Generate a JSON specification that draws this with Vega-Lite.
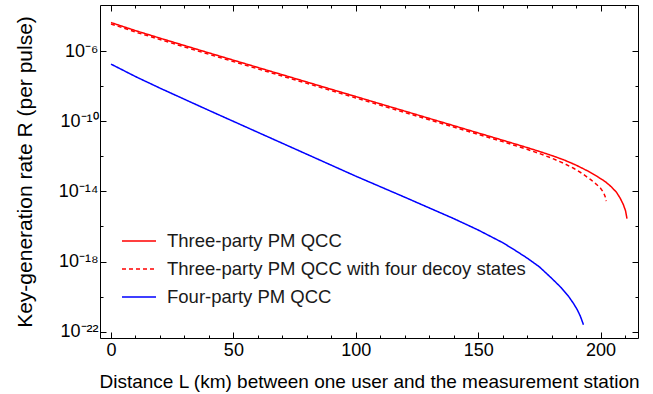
{
  "$schema": "https://vega.github.io/schema/vega-lite/v6.json",
  "autosize": "none",
  "width": 538,
  "height": 333,
  "padding": {"left": 100, "top": 5, "right": 15, "bottom": 56},
  "config": {
    "font": "Liberation Sans",
    "view": {"stroke": "#000000", "strokeWidth": 1},
    "axis": {
      "grid": false, "domain": false, "tickColor": "#000000", "labelColor": "#000000",
      "titleColor": "#000000", "labelFontSize": 18, "titleFontSize": 19,
      "titleFontWeight": "normal", "tickWidth": 1
    },
    "legend": {
      "labelFontSize": 18.5, "labelColor": "#1a1a1a", "symbolType": "stroke", "labelLimit": 0,
      "symbolSize": 1156, "symbolStrokeWidth": 1.5, "labelOffset": 10, "rowPadding": -2, "padding": 0
    }
  },
  "data": {
    "values": [
      {"series": "Three-party PM QCC", "km": 0, "R": 4.27e-5},
      {"series": "Three-party PM QCC", "km": 10, "R": 1.48e-5},
      {"series": "Three-party PM QCC", "km": 20, "R": 5.50e-6},
      {"series": "Three-party PM QCC", "km": 40, "R": 7.94e-7},
      {"series": "Three-party PM QCC", "km": 60, "R": 1.17e-7},
      {"series": "Three-party PM QCC", "km": 80, "R": 1.74e-8},
      {"series": "Three-party PM QCC", "km": 100, "R": 2.57e-9},
      {"series": "Three-party PM QCC", "km": 120, "R": 3.80e-10},
      {"series": "Three-party PM QCC", "km": 140, "R": 5.62e-11},
      {"series": "Three-party PM QCC", "km": 160, "R": 8.32e-12},
      {"series": "Three-party PM QCC", "km": 170, "R": 3.16e-12},
      {"series": "Three-party PM QCC", "km": 175, "R": 1.91e-12},
      {"series": "Three-party PM QCC", "km": 180, "R": 1.12e-12},
      {"series": "Three-party PM QCC", "km": 185, "R": 6.31e-13},
      {"series": "Three-party PM QCC", "km": 190, "R": 3.16e-13},
      {"series": "Three-party PM QCC", "km": 195, "R": 1.41e-13},
      {"series": "Three-party PM QCC", "km": 199, "R": 6.61e-14},
      {"series": "Three-party PM QCC", "km": 202, "R": 3.55e-14},
      {"series": "Three-party PM QCC", "km": 204.5, "R": 1.78e-14},
      {"series": "Three-party PM QCC", "km": 206.5, "R": 8.91e-15},
      {"series": "Three-party PM QCC", "km": 208, "R": 4.17e-15},
      {"series": "Three-party PM QCC", "km": 209.3, "R": 1.78e-15},
      {"series": "Three-party PM QCC", "km": 210.2, "R": 7.94e-16},
      {"series": "Three-party PM QCC", "km": 210.8, "R": 2.82e-16},
      {"series": "Three-party PM QCC with four decoy states", "km": 0, "R": 3.55e-5},
      {"series": "Three-party PM QCC with four decoy states", "km": 10, "R": 1.23e-5},
      {"series": "Three-party PM QCC with four decoy states", "km": 20, "R": 4.57e-6},
      {"series": "Three-party PM QCC with four decoy states", "km": 40, "R": 6.61e-7},
      {"series": "Three-party PM QCC with four decoy states", "km": 60, "R": 9.77e-8},
      {"series": "Three-party PM QCC with four decoy states", "km": 80, "R": 1.45e-8},
      {"series": "Three-party PM QCC with four decoy states", "km": 100, "R": 2.14e-9},
      {"series": "Three-party PM QCC with four decoy states", "km": 120, "R": 3.16e-10},
      {"series": "Three-party PM QCC with four decoy states", "km": 140, "R": 4.68e-11},
      {"series": "Three-party PM QCC with four decoy states", "km": 160, "R": 6.92e-12},
      {"series": "Three-party PM QCC with four decoy states", "km": 170, "R": 2.51e-12},
      {"series": "Three-party PM QCC with four decoy states", "km": 175, "R": 1.45e-12},
      {"series": "Three-party PM QCC with four decoy states", "km": 180, "R": 7.94e-13},
      {"series": "Three-party PM QCC with four decoy states", "km": 185, "R": 3.98e-13},
      {"series": "Three-party PM QCC with four decoy states", "km": 189, "R": 2.09e-13},
      {"series": "Three-party PM QCC with four decoy states", "km": 192.5, "R": 1.05e-13},
      {"series": "Three-party PM QCC with four decoy states", "km": 196, "R": 4.68e-14},
      {"series": "Three-party PM QCC with four decoy states", "km": 198.5, "R": 2.40e-14},
      {"series": "Three-party PM QCC with four decoy states", "km": 200, "R": 1.51e-14},
      {"series": "Three-party PM QCC with four decoy states", "km": 201.2, "R": 8.91e-15},
      {"series": "Three-party PM QCC with four decoy states", "km": 201.9, "R": 5.01e-15},
      {"series": "Three-party PM QCC with four decoy states", "km": 202.3, "R": 2.82e-15},
      {"series": "Four-party PM QCC", "km": 0, "R": 1.82e-7},
      {"series": "Four-party PM QCC", "km": 10, "R": 3.55e-8},
      {"series": "Four-party PM QCC", "km": 20, "R": 7.76e-9},
      {"series": "Four-party PM QCC", "km": 40, "R": 4.17e-10},
      {"series": "Four-party PM QCC", "km": 60, "R": 2.34e-11},
      {"series": "Four-party PM QCC", "km": 80, "R": 1.32e-12},
      {"series": "Four-party PM QCC", "km": 100, "R": 7.41e-14},
      {"series": "Four-party PM QCC", "km": 120, "R": 4.68e-15},
      {"series": "Four-party PM QCC", "km": 140, "R": 2.82e-16},
      {"series": "Four-party PM QCC", "km": 150, "R": 6.31e-17},
      {"series": "Four-party PM QCC", "km": 160, "R": 1.20e-17},
      {"series": "Four-party PM QCC", "km": 165, "R": 4.47e-18},
      {"series": "Four-party PM QCC", "km": 170, "R": 1.58e-18},
      {"series": "Four-party PM QCC", "km": 175, "R": 5.01e-19},
      {"series": "Four-party PM QCC", "km": 180, "R": 1.12e-19},
      {"series": "Four-party PM QCC", "km": 184, "R": 3.16e-20},
      {"series": "Four-party PM QCC", "km": 187, "R": 1.0e-20},
      {"series": "Four-party PM QCC", "km": 189, "R": 3.98e-21},
      {"series": "Four-party PM QCC", "km": 190.5, "R": 1.78e-21},
      {"series": "Four-party PM QCC", "km": 191.7, "R": 7.94e-22},
      {"series": "Four-party PM QCC", "km": 192.5, "R": 3.98e-22},
      {"series": "Four-party PM QCC", "km": 193, "R": 2.51e-22}
    ]
  },
  "resolve": {"axis": {"x": "independent", "y": "independent"}},
  "layer": [
    {
      "mark": {"type": "line", "strokeWidth": 1.5, "clip": true},
      "encoding": {
        "x": {
          "field": "km", "type": "quantitative",
          "scale": {"domain": [-4.49, 215.3], "nice": false, "zero": false},
          "axis": {
            "orient": "bottom", "values": [0, 50, 100, 150, 200], "tickSize": -6,
            "labelPadding": 9, "title": "Distance L (km) between one user and the measurement station",
            "titleY": 43, "titleBaseline": "middle"
          }
        },
        "y": {
          "field": "R", "type": "quantitative",
          "scale": {"type": "log", "domain": [4.37e-23, 4.27e-4], "nice": false},
          "axis": {
            "orient": "left", "values": [1e-6, 1e-10, 1e-14, 1e-18, 1e-22], "tickSize": -6,
            "labelPadding": 8,
            "labelExpr": "datum.value < 1e-21 ? '10⁻²²' : datum.value < 1e-17 ? '10⁻¹⁸' : datum.value < 1e-13 ? '10⁻¹⁴' : datum.value < 1e-9 ? '10⁻¹⁰' : '10⁻⁶'",
            "title": "Key-generation rate R (per pulse)", "titleFontSize": 21,
            "titleX": -75, "titleBaseline": "middle"
          }
        },
        "color": {
          "field": "series", "type": "nominal",
          "scale": {
            "domain": ["Three-party PM QCC", "Three-party PM QCC with four decoy states", "Four-party PM QCC"],
            "range": ["#ff0000", "#ff0000", "#0000ff"]
          },
          "legend": {"orient": "none", "legendX": 21, "legendY": 218, "title": null}
        },
        "strokeDash": {
          "field": "series", "type": "nominal",
          "scale": {
            "domain": ["Three-party PM QCC", "Three-party PM QCC with four decoy states", "Four-party PM QCC"],
            "range": [[1, 0], [4, 3], [1, 0]]
          },
          "legend": {"orient": "none", "legendX": 21, "legendY": 218, "title": null}
        }
      }
    },
    {
      "mark": {"type": "line", "opacity": 0},
      "encoding": {
        "x": {"field": "km", "type": "quantitative",
          "axis": {"orient": "bottom", "values": [10, 20, 30, 40, 60, 70, 80, 90, 110, 120, 130, 140, 160, 170, 180, 190, 210], "tickSize": -3, "labels": false, "title": null}},
        "y": {"field": "R", "type": "quantitative",
          "axis": {"orient": "left", "values": [1e-8, 1e-12, 1e-16, 1e-20], "tickSize": -3, "labels": false, "title": null}},
        "detail": {"field": "series"}
      }
    },
    {
      "mark": {"type": "line", "opacity": 0},
      "encoding": {
        "x": {"field": "km", "type": "quantitative",
          "axis": {"orient": "top", "values": [0, 50, 100, 150, 200], "tickSize": -6, "labels": false, "title": null}},
        "y": {"field": "R", "type": "quantitative",
          "axis": {"orient": "right", "values": [1e-6, 1e-10, 1e-14, 1e-18, 1e-22], "tickSize": -6, "labels": false, "title": null}},
        "detail": {"field": "series"}
      }
    },
    {
      "mark": {"type": "line", "opacity": 0},
      "encoding": {
        "x": {"field": "km", "type": "quantitative",
          "axis": {"orient": "top", "values": [10, 20, 30, 40, 60, 70, 80, 90, 110, 120, 130, 140, 160, 170, 180, 190, 210], "tickSize": -3, "labels": false, "title": null}},
        "y": {"field": "R", "type": "quantitative",
          "axis": {"orient": "right", "values": [1e-8, 1e-12, 1e-16, 1e-20], "tickSize": -3, "labels": false, "title": null}},
        "detail": {"field": "series"}
      }
    }
  ]
}
